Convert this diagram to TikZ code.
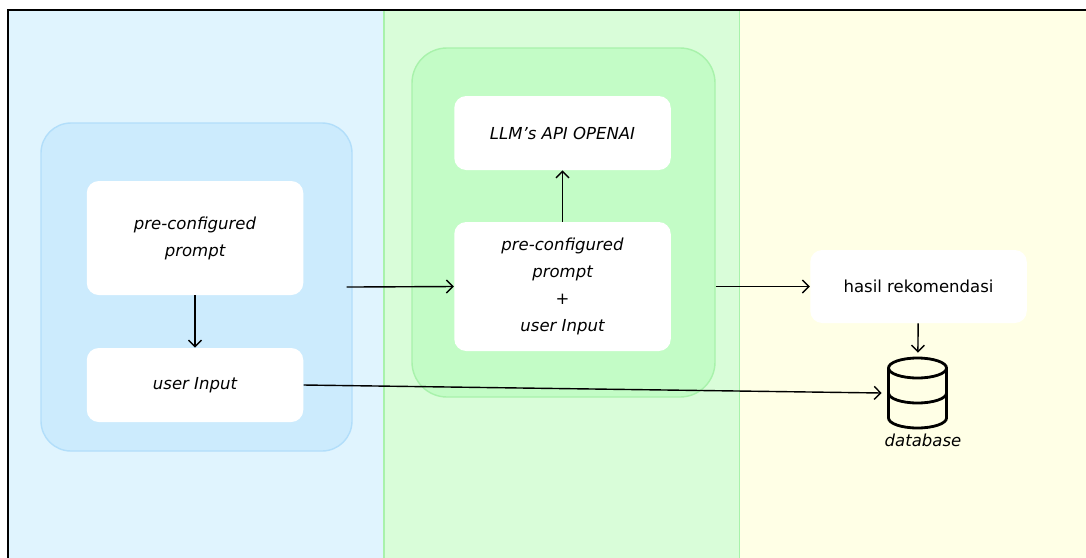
\documentclass[tikz,border=0pt]{standalone}
\usepackage{fontspec}
\setmainfont{DejaVu Sans}
\usepackage{tikz}
\usetikzlibrary{arrows.meta}
\usetikzlibrary{positioning,calc}
\definecolor{bluelane}{HTML}{E0F4FE}
\definecolor{bluegroup}{HTML}{CCEBFD}
\definecolor{blueedge}{HTML}{B2DEFA}
\definecolor{greenlane}{HTML}{D9FDD9}
\definecolor{greengroup}{HTML}{C3FCC6}
\definecolor{greenedge}{HTML}{A8F2AB}
\definecolor{yellowlane}{HTML}{FFFFE6}

\begin{document}
\begin{tikzpicture}
		\tikzset{lane/.style={draw=#1,line width=0.8pt},
			group box/.style={draw=#1,line width=0.8pt,rounded corners=0.6cm},
			white box/.style={fill=white,rounded corners=0.24cm,minimum width=4.33cm,align=center,inner sep=0pt,font=\fontsize{9.4}{15.4}\selectfont\itshape},
			flow/.style={line width=0.8pt,-{Straight Barb[length=1.3mm,width=2.6mm]}}}

		\clip (0,0) rectangle (21.72,-11.14);
		\useasboundingbox (0,0) rectangle (21.72,-11.14);

		% lanes
		\fill[bluelane] (0.16,-0.2) rectangle (7.68,-11.5);
		\filldraw[fill=greenlane,lane=greenedge] (7.68,-0.2) rectangle (14.8,-11.5);
		\fill[yellowlane] (14.8,-0.2) rectangle (22,-11.5);
		\draw[line width=1.1pt] (0.16,-11.5) |- (22,-0.2);

		% groups
		\node [group box=blueedge,fill=bluegroup,minimum width=6.22cm,minimum height=6.56cm] (user grp) at (3.93,-5.74) {};
		\node [group box=greenedge,fill=greengroup,minimum width=6.06cm,minimum height=6.98cm,rounded corners=0.7cm] (llm grp) at (11.27,-4.45) {};

		% boxes
		\node [white box,minimum height=2.28cm] (pre) at (3.9,-4.76) {pre-configured\\prompt};
		\node [white box,minimum height=1.48cm] (user in) at (3.9,-7.7) {user Input};
		\node [white box,minimum height=1.48cm] (llm) at (11.25,-2.66) {LLM’s API OPENAI};
		\node [white box,minimum height=2.58cm] (combo) at (11.25,-5.73) {pre-configured\\prompt\\+\\user Input};
		\node [white box,minimum height=1.46cm,font=\fontsize{9.4}{15.4}\selectfont] (hasil) at (18.37,-5.73) {hasil rekomendasi};

		% database
		\node [minimum width=1.42cm,minimum height=1.6cm,inner sep=0pt] (db) at (18.35,-7.86) {};
		\begin{scope}[shift={(db.center)},line width=1.6pt]
			\draw (0,0.5) ellipse (0.58 and 0.2);
			\draw (-0.58,0.5) -- (-0.58,-0.5) arc (180:360:0.58 and 0.2) -- (0.58,0.5);
			\draw (-0.58,0) arc (180:360:0.58 and 0.2);
		\end{scope}
		\node [font=\fontsize{9.4}{15.4}\selectfont\itshape] (db label) at (18.46,-8.8) {database};

		% arrows
		\draw [flow] (pre) -- (user in);
		\draw [flow,shorten <=-0.12cm] (user grp.east) -- (combo.west);
		\draw [flow] (combo) -- (llm);
		\draw [flow] (llm grp.east |- hasil.west) -- (hasil.west);
		\draw [flow] (hasil) -- (db);
		\draw [flow] (user in.east) -- (db.west);
	\end{tikzpicture}
\end{document}
